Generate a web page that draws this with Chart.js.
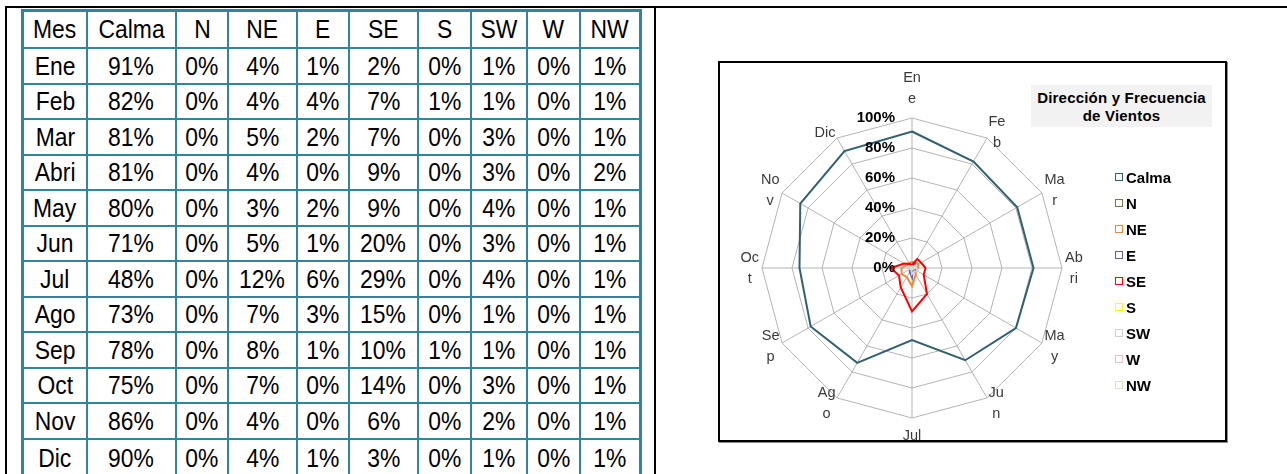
<!DOCTYPE html>
<html>
<head>
<meta charset="utf-8">
<script src="https://cdn.jsdelivr.net/npm/chart.js"></script>
<style>
  body { margin: 0; width: 1287px; height: 474px; overflow: hidden; background: #fff; position: relative;
         font-family: "Liberation Sans", Arial, sans-serif; }
  .linea { position: absolute; background: #000; }
  #tabla { position: absolute; left: 21px; top: 9px; border-collapse: collapse; table-layout: fixed;
           border: 3px solid #31849B; }
  #tabla td { border: 2px solid #31849B; padding: 0; text-align: center; font-size: 26px; color: #000;
              line-height: 1; overflow: hidden; white-space: nowrap; }
  #tabla td span { display: inline-block; transform: scaleX(0.88); }
  #caja { position: absolute; left: 718px; top: 61px; width: 505px; height: 377px; border: 2px solid #000;
          box-shadow: 1px 1px 0 #8c8c8c; overflow: hidden; background: #fff; }
  #radar { position: absolute; left: 0; top: 0; }
  #titulo { position: absolute; left: 311px; top: 22px; width: 181px; height: 42px; background: #f2f2f2;
            font-weight: bold; font-size: 15px; line-height: 18px; text-align: center; padding-top: 4px;
            box-sizing: border-box; letter-spacing: 0.2px; color: #000; }
  #leyenda { position: absolute; left: 395px; top: 101px; }
  #leyenda div { display: flex; align-items: center; height: 26px; font-weight: bold; font-size: 15px; color: #000; }
  #leyenda span.caja { display: inline-block; width: 6px; height: 6px; border-width: 1.5px; border-style: solid;
                       margin-right: 3px; }
</style>
</head>
<body>
<div class="linea" style="left:5px;top:6px;width:1282px;height:2px"></div>
<div class="linea" style="left:5px;top:6px;width:2px;height:468px"></div>
<div class="linea" style="left:654px;top:6px;width:2px;height:468px"></div>

<table id="tabla"></table>

<div id="caja">
  <canvas id="radar" width="505" height="377"></canvas>
  <div id="titulo">Dirección y Frecuencia<br>de Vientos</div>
  <div id="leyenda"></div>
</div>

<script>
// datos (porcentaje mensual por dirección)
const meses = ['Ene', 'Feb', 'Mar', 'Abri', 'May', 'Jun', 'Jul', 'Ago', 'Sep', 'Oct', 'Nov', 'Dic'];
const etiquetasRadar = [['En', 'e'], ['Fe', 'b'], ['Ma', 'r'], ['Ab', 'ri'], ['Ma', 'y'], ['Ju', 'n'],
                        ['Jul'], ['Ag', 'o'], ['Se', 'p'], ['Oc', 't'], ['No', 'v'], ['Dic']];
const direcciones = ['Calma', 'N', 'NE', 'E', 'SE', 'S', 'SW', 'W', 'NW'];
const calma = [91, 82, 81, 81, 80, 71, 48, 73, 78, 75, 86, 90];
const vN    = [0, 0, 0, 0, 0, 0, 0, 0, 0, 0, 0, 0];
const vNE   = [4, 4, 5, 4, 3, 5, 12, 7, 8, 7, 4, 4];
const vE    = [1, 4, 2, 0, 2, 1, 6, 3, 1, 0, 0, 1];
const vSE   = [2, 7, 7, 9, 9, 20, 29, 15, 10, 14, 6, 3];
const vS    = [0, 1, 0, 0, 0, 0, 0, 0, 1, 0, 0, 0];
const vSW   = [1, 1, 3, 3, 4, 3, 4, 1, 1, 3, 2, 1];
const vW    = [0, 0, 0, 0, 0, 0, 0, 0, 0, 0, 0, 0];
const vNW   = [1, 1, 1, 2, 1, 1, 1, 1, 1, 1, 1, 1];
const series = [calma, vN, vNE, vE, vSE, vS, vSW, vW, vNW];

const colores = ['#31606f', '#6f7d45', '#f0883a', '#6e5a93', '#ff0000', '#ffff00', '#d3cde3', '#e8c2c1', '#d6e4c0'];

// tabla
const anchos = [64.5, 89, 52, 69, 52, 69, 53, 56, 53, 60.5];
const tabla = document.getElementById('tabla');
const cg = document.createElement('colgroup');
anchos.forEach(w => { const c = document.createElement('col'); c.style.width = w + 'px'; cg.appendChild(c); });
tabla.appendChild(cg);
tabla.style.width = anchos.reduce((a, b) => a + b, 0) + 'px';

function fila(celdas, alto) {
  const tr = document.createElement('tr');
  tr.style.height = alto + 'px';
  celdas.forEach(t => {
    const td = document.createElement('td');
    const s = document.createElement('span');
    s.textContent = t;
    td.appendChild(s);
    tr.appendChild(td);
  });
  tabla.appendChild(tr);
}
fila(['Mes'].concat(direcciones), 37);
meses.forEach((m, i) => fila([m].concat(series.map(s => s[i] + '%')), i === meses.length - 1 ? 40 : (i % 2 ? 35 : 36)));

// etiquetas al estilo de Excel
const etiquetas = {
  id: 'etiquetas',
  afterDraw(chart) {
    const r = chart.scales.r;
    const ctx = chart.ctx;
    ctx.save();
    ctx.font = '14.5px "Liberation Sans"';
    ctx.fillStyle = '#3a3a3a';
    ctx.textAlign = 'center';
    ctx.textBaseline = 'middle';
    const lh = 21;
    etiquetasRadar.forEach((lineas, i) => {
      const a = r.getIndexAngle(i);
      const deg = Math.round(a * 180 / Math.PI) % 360;
      const p = r.getPointPosition(i, r.drawingArea + 3);
      const w = Math.max(...lineas.map(t => ctx.measureText(t).width));
      const h = lineas.length * lh;
      let cx = p.x;
      let top = p.y - 3 * Math.cos(a) - h / 2;
      if (deg === 0) top = p.y - 6 - h;
      else if (deg === 180) top = p.y + 4;
      else if (deg < 180) cx = p.x + w / 2;
      else cx = p.x - w / 2;
      lineas.forEach((t, k) => ctx.fillText(t, cx, top + lh * (k + 0.5)));
    });

    ctx.font = 'bold 15px "Liberation Sans"';
    ctx.fillStyle = '#000';
    ctx.textAlign = 'right';
    r.ticks.forEach(t => {
      const p = r.getPointPositionForValue(0, t.value);
      ctx.fillText(t.value + '%', r.xCenter - 17, p.y);
    });
    ctx.restore();
  }
};

const chart = new Chart(document.getElementById('radar'), {
  type: 'radar',
  data: {
    labels: meses,
    datasets: direcciones.map((d, i) => ({
      label: d,
      data: series[i],
      borderColor: colores[i],
      backgroundColor: colores[i],
      fill: false,
      borderWidth: 2,
      pointRadius: 0,
      order: direcciones.length - i
    }))
  },
  options: {
    responsive: false,
    animation: false,
    devicePixelRatio: 1,
    layout: { padding: { left: 42, right: 163, top: 55, bottom: 22 } },
    plugins: { legend: { display: false }, tooltip: { enabled: false } },
    scales: {
      r: {
        min: 0,
        max: 100,
        ticks: { stepSize: 20, display: false },
        grid: { color: '#b3b3b3', lineWidth: 1 },
        angleLines: { color: '#b3b3b3', lineWidth: 1 },
        pointLabels: { display: false }
      }
    }
  },
  plugins: [etiquetas]
});

// leyenda
const leyenda = document.getElementById('leyenda');
chart.data.datasets.forEach((ds, i) => {
  const item = document.createElement('div');
  const caja = document.createElement('span');
  caja.className = 'caja';
  caja.style.borderColor = colores[i];
  caja.style.backgroundColor = '#fff';
  item.appendChild(caja);
  item.appendChild(document.createTextNode(ds.label));
  leyenda.appendChild(item);
});
</script>
</body>
</html>
